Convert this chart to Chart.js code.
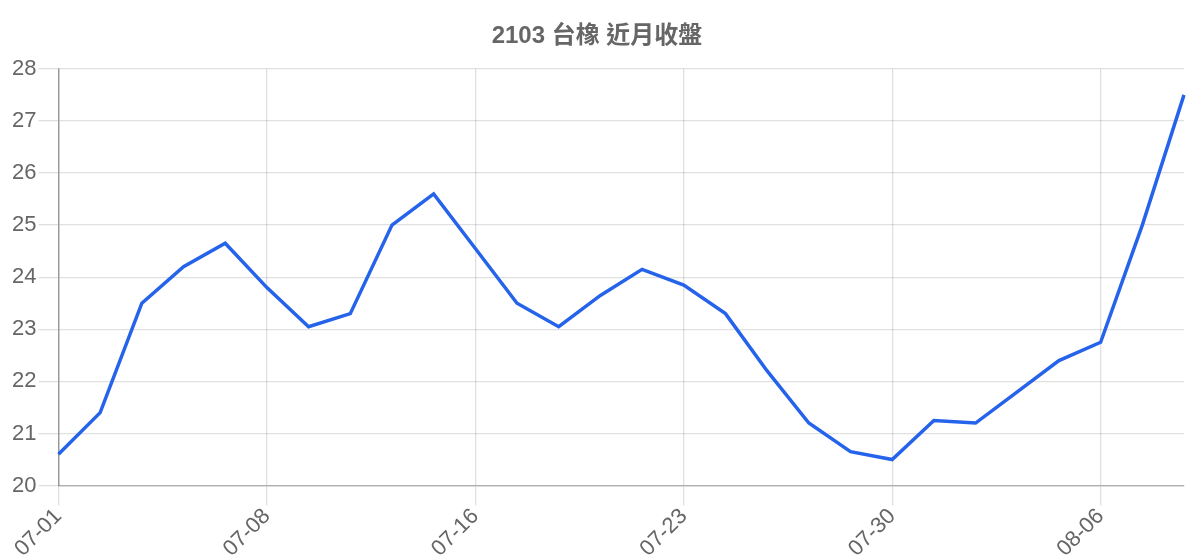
<!DOCTYPE html>
<html lang="zh-Hant">
<head>
  <meta charset="UTF-8" />
  <title>2103 台橡 近月收盤</title>
  <script src="https://cdn.jsdelivr.net/npm/chart.js"></script>
  <style>
    html, body { margin: 0; padding: 0; background: #fff; }
    #wrap { width: 1200px; height: 560px; }
  </style>
</head>
<body>
  <div id="wrap"><canvas id="chart"></canvas></div>
  <script>
    const dates = [
      "07-01", "07-02", "07-03", "07-04", "07-07", "07-08", "07-09", "07-10",
      "07-11", "07-14", "07-16", "07-17", "07-18", "07-21", "07-22", "07-23",
      "07-24", "07-25", "07-28", "07-29", "07-30", "07-31", "08-01", "08-04",
      "08-05", "08-06", "08-07", "08-08"
    ];
    const closes = [
      20.6, 21.4, 23.5, 24.2, 24.65, 23.8, 23.05, 23.3,
      25.0, 25.6, 24.55, 23.5, 23.05, 23.65, 24.15, 23.85,
      23.3, 22.2, 21.2, 20.65, 20.5, 21.25, 21.2, 21.8,
      22.4, 22.75, 25.0, 27.5
    ];
    const yTicks = [20, 21, 22, 23, 24, 25, 26, 27, 28];

    const font = "'Liberation Sans', Arial, 'Noto Sans CJK TC', sans-serif";

    new Chart(document.getElementById("chart"), {
      type: "line",
      data: {
        labels: dates,
        datasets: [{
          label: "收盤",
          data: closes,
          borderColor: "#2563eb",
          borderWidth: 3.5,
          pointRadius: 0,
          tension: 0,
          fill: false
        }]
      },
      options: {
        responsive: true,
        maintainAspectRatio: false,
        animation: false,
        layout: { padding: { left: 10, right: 16, top: 4, bottom: 0 } },
        plugins: {
          legend: { display: false },
          title: {
            display: true,
            text: "2103 台橡 近月收盤",
            color: "#666",
            font: { family: font, size: 24, weight: "bold" },
            padding: { top: 18, bottom: 18 }
          }
        },
        scales: {
          x: {
            grid: { color: "rgba(0,0,0,0.12)", lineWidth: 1.3, tickLength: 20 },
            border: { color: "rgba(0,0,0,0.22)", width: 1.5 },
            ticks: {
              color: "#666",
              font: { family: font, size: 22 },
              padding: -2,
              autoSkip: false,
              maxRotation: 45,
              minRotation: 45,
              callback: function (v, i) { return i % 5 === 0 ? dates[i] : null; }
            }
          },
          y: {
            min: yTicks[0],
            max: yTicks[yTicks.length - 1],
            afterBuildTicks: function (axis) { axis.ticks = yTicks.map(v => ({ value: v })); },
            grid: { color: "rgba(0,0,0,0.12)", lineWidth: 1.3, tickLength: 20 },
            border: { color: "rgba(0,0,0,0.32)", width: 1.5 },
            ticks: {
              color: "#666",
              font: { family: font, size: 22 },
              padding: 2
            }
          }
        }
      }
    });
  </script>
</body>
</html>
